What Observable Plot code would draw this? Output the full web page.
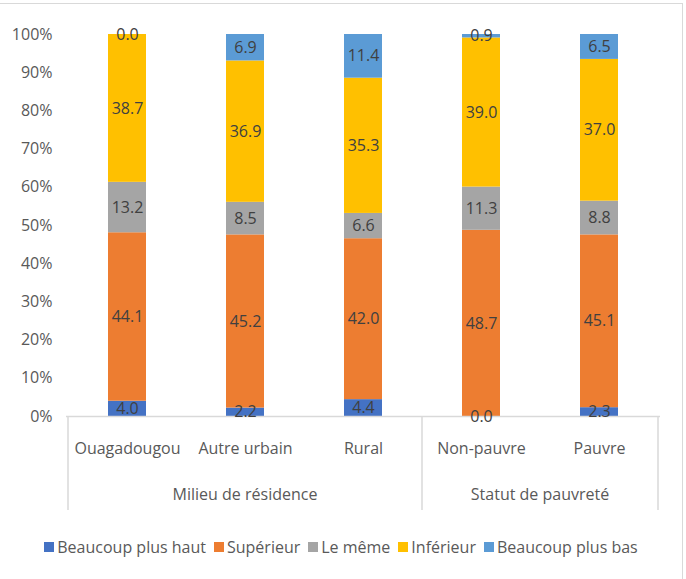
<!DOCTYPE html>
<html>
<head>
<meta charset="utf-8">
<script src="https://cdn.jsdelivr.net/npm/d3@7"></script>
<script src="https://cdn.jsdelivr.net/npm/@observablehq/plot@0.6"></script>
<style>
  body { margin: 0; background: #fff; font-family: "Open Sans", sans-serif; }
  #wrap { width: 683px; height: 576px; margin-top: 3px; border-top: 1px solid #d9d9d9; border-right: 1px solid #d9d9d9; box-sizing: border-box; position: relative; }
  #legend { position: absolute; top: 532px; left: 0; width: 682px; display: flex; justify-content: center; font-size: 16px; color: #595959; line-height: 22px; }
  .item { display: flex; align-items: center; margin: 0 4px; }
  .sw { width: 10px; height: 10px; margin-right: 3px; }
</style>
</head>
<body>
<div id="wrap"><div id="chart"></div><div id="legend"></div></div>
<script>
const categories = ["Ouagadougou", "Autre urbain", "Rural", "Non-pauvre", "Pauvre"];
const series = ["Beaucoup plus haut", "Supérieur", "Le même", "Inférieur", "Beaucoup plus bas"];
const colors = ["#4472C4", "#ED7D31", "#A5A5A5", "#FFC000", "#5B9BD5"];
const beaucoupPlusHaut = [4.0, 2.2, 4.4, 0.0, 2.3];
const superieur = [44.1, 45.2, 42.0, 48.7, 45.1];
const leMeme = [13.2, 8.5, 6.6, 11.3, 8.8];
const inferieur = [38.7, 36.9, 35.3, 39.0, 37.0];
const beaucoupPlusBas = [0.0, 6.9, 11.4, 0.9, 6.5];
const groupNames = ["Milieu de résidence", "Statut de pauvreté"];
const groupMembers = [["Ouagadougou", "Autre urbain", "Rural"], ["Non-pauvre", "Pauvre"]];
const yTicks = [0, 0.1, 0.2, 0.3, 0.4, 0.5, 0.6, 0.7, 0.8, 0.9, 1.0];

const seriesValues = [beaucoupPlusHaut, superieur, leMeme, inferieur, beaucoupPlusBas];
const data = [];
series.forEach((s, i) => categories.forEach((c, j) => data.push({category: c, series: s, value: seriesValues[i][j]})));

const W = 682, H = 516, ML = 66, MR = 22, MT = 30, MB = 104;

const chart = Plot.plot({
  width: W, height: H,
  marginLeft: ML, marginRight: MR, marginTop: MT, marginBottom: MB,
  style: { fontFamily: "Open Sans, sans-serif", fontSize: "16px", color: "#595959", background: "#fff" },
  x: { type: "band", domain: categories, paddingInner: 0.68, paddingOuter: 0.34, label: null },
  y: { domain: [0, 1], label: null },
  color: { domain: series, range: colors },
  marks: [
    Plot.axisY({ ticks: yTicks, tickFormat: d3.format(".0%"), tickSize: 0, tickPadding: 14, label: null, fontSize: 16 }),
    Plot.axisX({ tickSize: 0, tickPadding: 26, label: null, fontSize: 16 }),
    Plot.barY(data, Plot.stackY({ x: "category", y: "value", fill: "series", order: series, offset: "normalize" })),
    Plot.ruleY([0], { stroke: "#d9d9d9", strokeWidth: 1.5 }),
    Plot.text(data, Plot.stackY({ x: "category", y: "value", z: "series", order: series, offset: "normalize",
      text: d => d.value.toFixed(1), fill: "#404040", fontSize: 16 }))
  ]
});
document.getElementById("chart").appendChild(chart);

// category-axis group separators and group labels, positioned with Plot's x scale
const xs = chart.scale("x");
const half = xs.step / 2;
const center = c => xs.apply(c) + xs.bandwidth / 2;
const y0 = H - MB;
const svg = d3.select(chart);
const g = svg.append("g");
const seps = [center(groupMembers[0][0]) - half];
groupMembers.forEach(m => seps.push(center(m[m.length - 1]) + half));
seps.forEach(x => g.append("line").attr("x1", x).attr("x2", x).attr("y1", y0).attr("y2", y0 + 94)
  .attr("stroke", "#d9d9d9").attr("stroke-width", 1.5));
groupMembers.forEach((m, i) => {
  const cx = (center(m[0]) + center(m[m.length - 1])) / 2;
  g.append("text").attr("x", cx).attr("y", y0 + 78).attr("dy", "0.35em").attr("text-anchor", "middle")
    .attr("fill", "#595959").attr("font-size", 16).text(groupNames[i]);
});

const legend = d3.select("#legend");
series.forEach((s, i) => {
  const it = legend.append("div").attr("class", "item");
  it.append("div").attr("class", "sw").style("background", colors[i]);
  it.append("span").text(s);
});
</script>
</body>
</html>
